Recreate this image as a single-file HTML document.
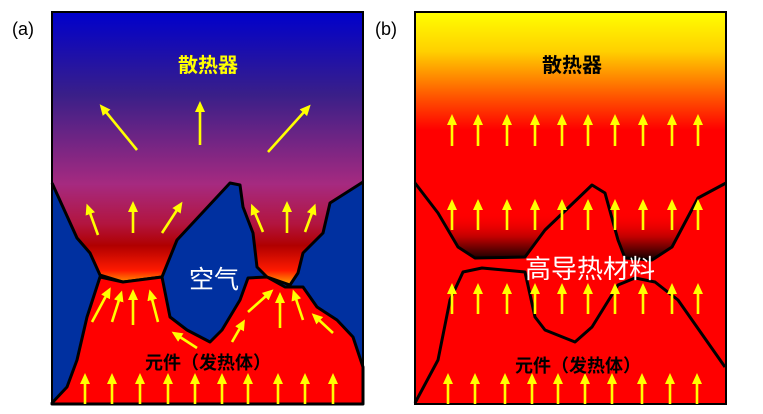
<!DOCTYPE html>
<html><head><meta charset="utf-8"><style>
html,body{margin:0;padding:0;background:#fff;}
svg{display:block;}
text{font-family:"Liberation Sans","Noto Sans CJK SC",sans-serif;}
</style></head><body>
<svg width="763" height="414" viewBox="0 0 763 414" xmlns="http://www.w3.org/2000/svg">
<defs>
<marker id="h" markerUnits="userSpaceOnUse" markerWidth="11" markerHeight="10" refX="1" refY="5" orient="auto" viewBox="0 0 11 10">
<path d="M0,0 L11,5 L0,10 z" fill="#ffff00"/>
</marker>
<linearGradient id="ga" x1="0" y1="12" x2="0" y2="290" gradientUnits="userSpaceOnUse">
<stop offset="0" stop-color="#0000cc"/>
<stop offset="0.3" stop-color="#3a1f88"/>
<stop offset="0.62" stop-color="#a62a80"/>
<stop offset="0.76" stop-color="#b21540"/>
<stop offset="0.84" stop-color="#b00000"/>
<stop offset="0.93" stop-color="#ff1a00"/>
<stop offset="1" stop-color="#ffdd00"/>
</linearGradient>
<linearGradient id="gb" x1="0" y1="12" x2="0" y2="405" gradientUnits="userSpaceOnUse">
<stop offset="0" stop-color="#ffff00"/>
<stop offset="0.1" stop-color="#ffd000"/>
<stop offset="0.22" stop-color="#ff5000"/>
<stop offset="0.3" stop-color="#ff0000"/>
<stop offset="1" stop-color="#ff0000"/>
</linearGradient>
<linearGradient id="gd" x1="0" y1="12" x2="0" y2="262" gradientUnits="userSpaceOnUse">
<stop offset="0" stop-color="#ff0000" stop-opacity="0"/>
<stop offset="0.8" stop-color="#ff0000" stop-opacity="0"/>
<stop offset="0.9" stop-color="#c00000"/>
<stop offset="1" stop-color="#000000"/>
</linearGradient>
</defs>
<text x="12" y="35" font-size="18" fill="#000">(a)</text>
<text x="375" y="35" font-size="18" fill="#000">(b)</text>

<rect x="52" y="12" width="311" height="392" fill="#0030a0"/>
<path d="M52,12 L363,12 L363,182 L330,203 L323,233 L303,253 L298,273 L290,285 L267,277 L257,267 L253,233 L243,207 L240,185 L230,183 L177,240 L162,277 L123,282 L100,275 L90,253 L77,238 L52,183 Z" fill="url(#ga)"/>
<path d="M52,183 L77,238 L90,253 L100,275 L123,282 L162,277 L177,240 L230,183 L240,185 L243,207 L253,233 L257,267 L267,277 L290,285 L298,273 L303,253 L323,233 L330,203 L363,182" fill="none" stroke="#000" stroke-width="3" stroke-linejoin="round"/>
<path d="M52,404 L52,403 L67,387 L77,360 L87,317 L100,277 L123,282 L162,277 L170,317 L187,330 L210,342 L222,330 L240,300 L248,278 L267,277 L285,287 L303,287 L317,307 L337,320 L353,337 L363,367 L363,404 Z" fill="#ff0000" stroke="#000" stroke-width="3" stroke-linejoin="round"/>
<rect x="52" y="12" width="311" height="392" fill="none" stroke="#000" stroke-width="2"/>
<g stroke="#ffff00" stroke-width="2.6" marker-end="url(#h)">
<line x1="137" y1="150" x2="106" y2="112"/>
<line x1="200" y1="145" x2="200" y2="111"/>
<line x1="268" y1="152" x2="304" y2="112"/>
<line x1="98" y1="235" x2="90" y2="213"/>
<line x1="133" y1="233" x2="133" y2="211"/>
<line x1="162" y1="233" x2="177" y2="210"/>
<line x1="263" y1="232" x2="255" y2="213"/>
<line x1="287" y1="233" x2="287" y2="211"/>
<line x1="305" y1="232" x2="312" y2="213"/>
<line x1="92" y1="322" x2="106" y2="296"/>
<line x1="112" y1="322" x2="119" y2="300"/>
<line x1="133" y1="325" x2="133" y2="299"/>
<line x1="158" y1="322" x2="152" y2="299"/>
<line x1="197" y1="348" x2="180" y2="337"/>
<line x1="232" y1="342" x2="240" y2="328"/>
<line x1="248" y1="312" x2="266" y2="296"/>
<line x1="280" y1="328" x2="280" y2="302"/>
<line x1="303" y1="320" x2="296" y2="299"/>
<line x1="333" y1="333" x2="319" y2="320"/>
</g>
<g stroke="#ffff00" stroke-width="2.6" marker-end="url(#h)">
<line x1="85" y1="404" x2="85" y2="383"/>
<line x1="112" y1="404" x2="112" y2="383"/>
<line x1="140" y1="404" x2="140" y2="383"/>
<line x1="168" y1="404" x2="168" y2="383"/>
<line x1="195" y1="404" x2="195" y2="383"/>
<line x1="222" y1="404" x2="222" y2="383"/>
<line x1="248" y1="404" x2="248" y2="383"/>
<line x1="278" y1="404" x2="278" y2="383"/>
<line x1="305" y1="404" x2="305" y2="383"/>
<line x1="333" y1="404" x2="333" y2="383"/>
</g>
<text x="208" y="72" font-size="20" font-weight="bold" fill="#ffff00" text-anchor="middle">散热器</text>
<text x="214" y="288" font-size="25" fill="#fff" text-anchor="middle">空气</text>
<text x="208" y="369" font-size="18" font-weight="bold" fill="#000" text-anchor="middle">元件（发热体）</text>

<rect x="415" y="12" width="311" height="392" fill="url(#gb)"/>
<path d="M415,183 L438,213 L458,247 L475,258 L525,257 L545,230 L592,185 L605,193 L618,240 L625,258 L652,260 L672,247 L698,198 L726,183 L726,12 L415,12 Z" fill="url(#gd)"/>
<path d="M415,183 L438,213 L458,247 L475,258 L525,257 L545,230 L592,185 L605,193 L618,240 L625,258 L652,260 L672,247 L698,198 L726,183" fill="none" stroke="#000" stroke-width="3" stroke-linejoin="round"/>
<path d="M415,403 L438,360 L450,300 L463,272 L482,268 L525,272 L535,317 L545,330 L575,342 L592,327 L618,285 L635,278 L655,282 L678,300 L692,320 L725,367" fill="none" stroke="#000" stroke-width="3" stroke-linejoin="round"/>
<rect x="415" y="12" width="311" height="392" fill="none" stroke="#000" stroke-width="2"/>
<g stroke="#ffff00" stroke-width="2.6" marker-end="url(#h)">
<line x1="452" y1="146" x2="452" y2="124"/><line x1="478" y1="146" x2="478" y2="124"/><line x1="507" y1="146" x2="507" y2="124"/><line x1="535" y1="146" x2="535" y2="124"/><line x1="562" y1="146" x2="562" y2="124"/><line x1="588" y1="146" x2="588" y2="124"/><line x1="615" y1="146" x2="615" y2="124"/><line x1="643" y1="146" x2="643" y2="124"/><line x1="672" y1="146" x2="672" y2="124"/><line x1="698" y1="146" x2="698" y2="124"/>
<line x1="452" y1="230" x2="452" y2="209"/><line x1="478" y1="230" x2="478" y2="209"/><line x1="507" y1="230" x2="507" y2="209"/><line x1="535" y1="230" x2="535" y2="209"/><line x1="562" y1="230" x2="562" y2="209"/><line x1="588" y1="230" x2="588" y2="209"/><line x1="615" y1="230" x2="615" y2="209"/><line x1="643" y1="230" x2="643" y2="209"/><line x1="672" y1="230" x2="672" y2="209"/><line x1="698" y1="230" x2="698" y2="209"/>
<line x1="452" y1="314" x2="452" y2="293"/><line x1="478" y1="314" x2="478" y2="293"/><line x1="507" y1="314" x2="507" y2="293"/><line x1="535" y1="314" x2="535" y2="293"/><line x1="562" y1="314" x2="562" y2="293"/><line x1="588" y1="314" x2="588" y2="293"/><line x1="615" y1="314" x2="615" y2="293"/><line x1="643" y1="314" x2="643" y2="293"/><line x1="672" y1="314" x2="672" y2="293"/><line x1="698" y1="314" x2="698" y2="293"/>
<line x1="448" y1="404" x2="448" y2="383"/><line x1="475" y1="404" x2="475" y2="383"/><line x1="505" y1="404" x2="505" y2="383"/><line x1="532" y1="404" x2="532" y2="383"/><line x1="558" y1="404" x2="558" y2="383"/><line x1="585" y1="404" x2="585" y2="383"/><line x1="612" y1="404" x2="612" y2="383"/><line x1="642" y1="404" x2="642" y2="383"/><line x1="670" y1="404" x2="670" y2="383"/><line x1="697" y1="404" x2="697" y2="383"/>
</g>
<text x="572" y="72" font-size="20" font-weight="bold" fill="#000" text-anchor="middle">散热器</text>
<text x="590" y="278" font-size="26" fill="#fff" text-anchor="middle">高导热材料</text>
<text x="578" y="372" font-size="18" font-weight="bold" fill="#000" text-anchor="middle">元件（发热体）</text>
</svg>
</body></html>
